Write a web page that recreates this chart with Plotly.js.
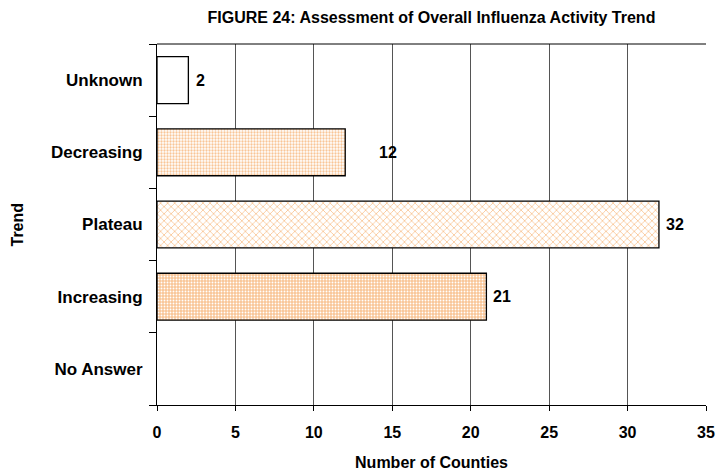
<!DOCTYPE html>
<html>
<head>
<meta charset="utf-8">
<script src="https://cdn.plot.ly/plotly-3.0.1.min.js"></script>
<style>html,body{margin:0;padding:0;background:#fff;}</style>
</head>
<body>
<div id="chart" style="width:717px;height:471px;"></div>
<script>
const categories = ["Unknown", "Decreasing", "Plateau", "Increasing", "No Answer"];
const counts = [2, 12, 32, 21, 0];
const xTicks = [0, 5, 10, 15, 20, 25, 30, 35];

const orange = "#F9C596";
const styles = [
  {shape: "",  fg: "#ffffff", bg: "#ffffff", size: 4, solidity: 0.3, shift: 6},
  {shape: ".", fg: orange,    bg: "#ffffff", size: 3, solidity: 0.45, shift: 32},
  {shape: "x", fg: orange,    bg: "#ffffff", size: 5, solidity: 0.3, shift: 5},
  {shape: ".", fg: "#ffffff", bg: orange,    size: 3, solidity: 0.3, shift: 5},
  {shape: "",  fg: "#ffffff", bg: "#ffffff", size: 4, solidity: 0.3, shift: 5}
];

const fam = "Liberation Sans, Arial, sans-serif";

const traces = categories.map((c, i) => ({
  type: "bar",
  orientation: "h",
  y: [c],
  x: [counts[i]],
  width: 0.65,
  marker: {
    color: styles[i].bg,
    line: {color: "#000", width: counts[i] > 0 ? 1.3 : 0},
    pattern: {shape: styles[i].shape, fgcolor: styles[i].fg, bgcolor: styles[i].bg,
              size: styles[i].size, solidity: styles[i].solidity, fillmode: "replace"}
  },
  hoverinfo: "skip"
}));

const annotations = categories.map((c, i) => counts[i] > 0 ? {
  x: counts[i], y: c, text: "<b>" + counts[i] + "</b>",
  showarrow: false, xanchor: "left", xshift: styles[i].shift,
  font: {family: fam, size: 16, color: "#000"}
} : null).filter(a => a);

annotations.push({
  xref: "paper", yref: "paper", x: 0, y: 0.5, xshift: -140,
  xanchor: "center", yanchor: "middle", textangle: -90,
  text: "<b>Trend</b>", showarrow: false,
  font: {family: fam, size: 16, color: "#000"}
});

const layout = {
  width: 717, height: 471,
  margin: {l: 157, r: 11, t: 44, b: 66, pad: 0},
  paper_bgcolor: "#fff", plot_bgcolor: "#fff",
  showlegend: false,
  barmode: "overlay",
  font: {family: fam, size: 16, color: "#000"},
  title: {text: "<b>FIGURE 24: Assessment of Overall Influenza Activity Trend</b>",
          font: {family: fam, size: 16, color: "#000"},
          x: 0.5, xref: "paper", xanchor: "center", y: 0.962, yanchor: "middle"},
  xaxis: {
    range: [0, 35], tickvals: xTicks, ticktext: xTicks.map(v => "<b>" + v + "</b>"),
    showgrid: true, gridcolor: "#555", gridwidth: 1,
    showline: true, linecolor: "#000", linewidth: 1, mirror: false,
    ticks: "outside", ticklen: 5, tickcolor: "#000",
    zeroline: false, ticklabelstandoff: 8,
    tickfont: {family: fam, size: 16, color: "#000"},
    title: {text: "<b>Number of Counties</b>", font: {family: fam, size: 16, color: "#000"}, standoff: 16}
  },
  yaxis: {
    type: "category", categoryorder: "array", categoryarray: categories,
    autorange: "reversed",
    showgrid: false, showline: true, linecolor: "#000", linewidth: 1,
    ticks: "outside", ticklen: 7, tickcolor: "#000", tickson: "boundaries",
    ticklabelstandoff: 10,
    ticktext: categories.map(c => "<b>" + c + "</b>"), tickvals: categories,
    tickfont: {family: fam, size: 17, color: "#000"}
  },
  shapes: [
    {type: "line", xref: "paper", yref: "paper", x0: 0, x1: 1, y0: 1, y1: 1, line: {color: "#000", width: 1}}
  ],
  annotations: annotations
};

Plotly.newPlot("chart", traces, layout, {displayModeBar: false, staticPlot: true});
</script>
</body>
</html>
